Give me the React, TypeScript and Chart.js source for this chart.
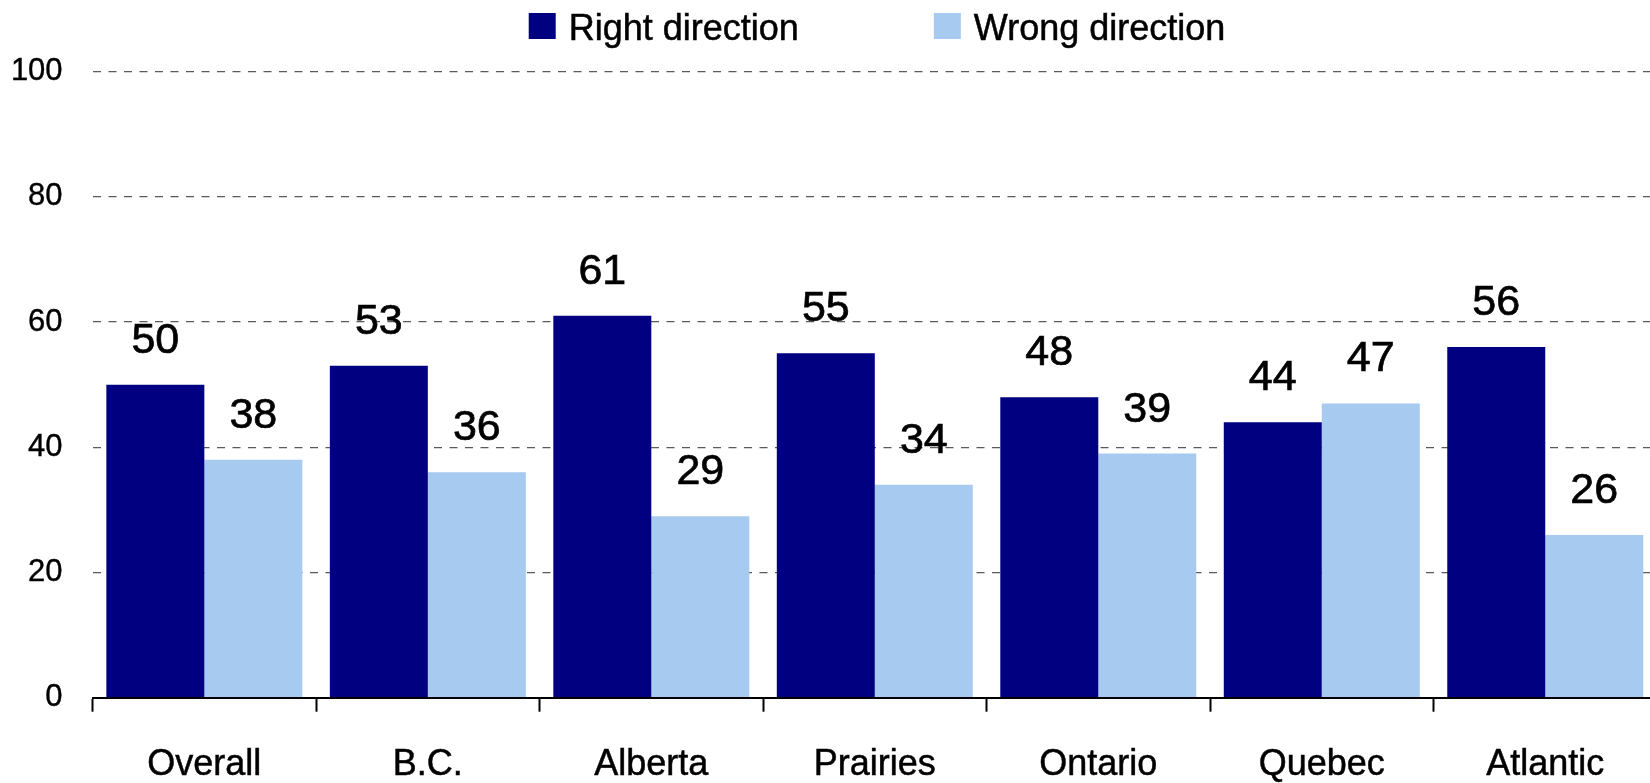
import React, { useEffect, useRef } from "react";
import { Chart, registerables } from "chart.js";

Chart.register(...registerables);

const categories = ["Overall", "B.C.", "Alberta", "Prairies", "Ontario", "Quebec", "Atlantic"];
const rightDirection = [50, 53, 61, 55, 48, 44, 56];
const wrongDirection = [38, 36, 29, 34, 39, 47, 26];
const seriesLabels = ["Right direction", "Wrong direction"];
const seriesColors = ["#000080", "#A6CAF0"];
const yTicks = [0, 20, 40, 60, 80, 100];

const FONT = "'Liberation Sans', Arial, sans-serif";

const valueLabelPlugin = {
  id: "valueLabels",
  afterDatasetsDraw(chart: any) {
    const ctx = chart.ctx;
    ctx.save();
    ctx.font = `43px ${FONT}`;
    ctx.fillStyle = "#000";
    ctx.strokeStyle = "#000";
    ctx.lineWidth = 0.7;
    ctx.textAlign = "center";
    ctx.textBaseline = "alphabetic";
    chart.data.datasets.forEach((ds: any, di: number) => {
      const meta = chart.getDatasetMeta(di);
      meta.data.forEach((bar: any, i: number) => {
        const t = String(ds.data[i]);
        ctx.fillText(t, bar.x, bar.y - 32);
        ctx.strokeText(t, bar.x, bar.y - 32);
      });
    });
    ctx.restore();
  },
};

const customLegendPlugin = {
  id: "customLegend",
  afterDraw(chart: any) {
    const ctx = chart.ctx;
    ctx.save();
    ctx.font = `36px ${FONT}`;
    ctx.textBaseline = "alphabetic";
    ctx.textAlign = "left";
    const box = 27;
    const gapText = 13;
    const gapItem = 135;
    const items = chart.data.datasets.map((ds: any) => ({
      label: ds.label,
      color: ds.backgroundColor,
      w: ctx.measureText(ds.label).width,
    }));
    let total = 0;
    items.forEach((it: any, i: number) => {
      total += box + gapText + it.w + (i < items.length - 1 ? gapItem : 0);
    });
    const centerX = 877;
    let x = centerX - total / 2;
    const boxTop = 13;
    const baseline = 40;
    items.forEach((it: any) => {
      ctx.fillStyle = it.color;
      ctx.fillRect(x, boxTop, box, 26);
      ctx.fillStyle = "#000";
      ctx.strokeStyle = "#000";
      ctx.lineWidth = 0.5;
      ctx.fillText(it.label, x + box + gapText, baseline);
      ctx.strokeText(it.label, x + box + gapText, baseline);
      x += box + gapText + it.w + gapItem;
    });
    ctx.restore();
  },
};

export default function App() {
  const canvasRef = useRef<HTMLCanvasElement | null>(null);

  useEffect(() => {
    if (!canvasRef.current) return;
    const chart = new Chart(canvasRef.current, {
      type: "bar",
      data: {
        labels: categories,
        datasets: [
          {
            label: seriesLabels[0],
            data: rightDirection,
            backgroundColor: seriesColors[0],
            borderWidth: 0,
          },
          {
            label: seriesLabels[1],
            data: wrongDirection,
            backgroundColor: seriesColors[1],
            borderWidth: 0,
          },
        ],
      },
      options: {
        responsive: false,
        animation: false,
        devicePixelRatio: 1,
        layout: { padding: { top: 71.6, left: 0, right: 0, bottom: 0 } },
        datasets: {
          bar: { categoryPercentage: 0.877, barPercentage: 1 },
        },
        plugins: {
          legend: { display: false },
          tooltip: { enabled: false },
        },
        scales: {
          x: {
            type: "category",
            offset: true,
            afterFit: (s: any) => {
              s.height = 85.3;
            },
            grid: {
              offset: true,
              drawOnChartArea: false,
              drawTicks: true,
              tickLength: 14,
              tickWidth: 2,
              tickColor: "#000",
              color: "#000",
            },
            border: { display: true, color: "#000", width: 2 },
            ticks: {
              color: "#000",
              font: { family: FONT, size: 36 },
              padding: 32,
              maxRotation: 0,
              autoSkip: false,
              textStrokeColor: "#000",
              textStrokeWidth: 0.5,
            },
          },
          y: {
            min: 0,
            max: 100,
            afterFit: (s: any) => {
              s.width = 92.6;
            },
            afterBuildTicks: (s: any) => {
              s.ticks = yTicks.map((v) => ({ value: v }));
            },
            grid: {
              drawTicks: false,
              color: "#5a5a5a",
              lineWidth: 1.3,
            },
            border: { display: false, dash: [8, 7.5] },
            ticks: {
              color: "#000",
              font: { family: FONT, size: 31 },
              padding: 30,
              textStrokeColor: "#000",
              textStrokeWidth: 0.4,
            },
          },
        },
      },
      plugins: [valueLabelPlugin, customLegendPlugin],
    } as any);
    return () => chart.destroy();
  }, []);

  return (
    <div
      style={{
        position: "fixed",
        left: 0,
        top: 0,
        width: 1650,
        height: 783,
        overflow: "hidden",
        background: "#fff",
      }}
    >
      <canvas ref={canvasRef} width={1657} height={783} style={{ display: "block" }} />
    </div>
  );
}
